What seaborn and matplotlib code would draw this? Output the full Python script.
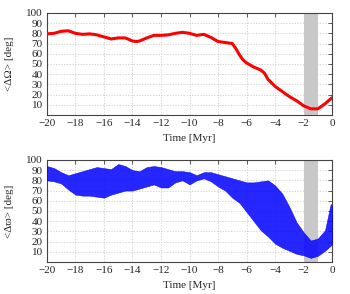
import numpy as np
import pandas as pd
import matplotlib
matplotlib.use("Agg")
import matplotlib.pyplot as plt
import seaborn as sns

# ==================================================
# DATA
# ==================================================

time_omega = [-20, -19.5, -19, -18.5, -18, -17.5, -17, -16.5, -16, -15.5,
              -15, -14.5, -14, -13.7, -13.5, -13, -12.5, -12, -11.5, -11,
              -10.5, -10, -9.5, -9, -8.5, -8, -7.5, -7, -6.75, -6.5,
              -6.25, -6, -5.5, -5, -4.75, -4.5, -4, -3.5, -3, -2.5,
              -2, -1.5, -1, -0.5, 0]
delta_Omega = [79.5, 80, 82, 82.5, 80, 79, 79.5, 78.5, 76.5, 74.5,
               75.5, 75.5, 72.5, 72, 72.5, 75.5, 78, 78, 78.5, 80,
               81, 80, 78, 79, 76, 72, 71, 70, 65, 59,
               54, 51, 47, 44, 41, 35, 28, 23, 18, 14,
               9, 6, 6, 11, 17]

time_varpi = [-20, -19.5, -19, -18.5, -18, -17.5, -17, -16.5, -16, -15.5,
              -15, -14.5, -14, -13.5, -13, -12.5, -12, -11.5, -11, -10.5,
              -10, -9.5, -9, -8.5, -8, -7.5, -7, -6.5, -6, -5.5,
              -5, -4.5, -4, -3.5, -3, -2.5, -2, -1.5, -1, -0.5,
              -0.1, 0]
varpi_upper = [94, 92, 88, 85, 87, 89, 91, 93, 92, 91,
               96, 94, 90, 89, 93, 94, 93, 91, 89, 89,
               88, 85, 88, 88, 86, 84, 82, 80, 78, 78,
               79, 80, 75, 67, 54, 39, 29, 21, 23, 31,
               57, 54]
varpi_lower = [80, 79, 77, 71, 66, 65, 65, 64, 63, 66,
               68, 70, 70, 72, 74, 76, 73, 73, 78, 80,
               76, 80, 82, 79, 74, 70, 63, 58, 49, 40,
               31, 25, 18, 14, 11, 8, 6.5, 4, 6, 11,
               16, 18]

shade_start = -2
shade_end = -1

# ==================================================
# STYLE
# ==================================================

sns.set_style("white")
plt.rcParams["font.family"] = ["Liberation Serif", "DejaVu Serif"]
plt.rcParams["font.size"] = 8

fig = plt.figure(figsize=(3.5, 2.94), dpi=100)
ax1 = fig.add_axes([0.134, 0.609, 0.815, 0.347])
ax2 = fig.add_axes([0.134, 0.109, 0.815, 0.347])


def style_axis(ax, ylabel):
    ax.axvspan(shade_start, shade_end, color="#c8c8c8", lw=0, zorder=1)
    ax.set_xlim(-20, 0)
    ax.set_ylim(0, 100)
    ax.set_xticks(np.arange(-20, 1, 2))
    ax.set_yticks(np.arange(10, 101, 10))
    ax.grid(True, color="#c8c8c8", linestyle=(0, (2, 2)), lw=0.5)
    ax.set_axisbelow(True)
    ax.tick_params(direction="in", length=3, width=0.6, top=True,
                   right=True, labelsize=8, pad=3, color="#444444")
    for s in ax.spines.values():
        s.set_color("#444444")
        s.set_linewidth(0.8)
    ax.set_xlabel("Time [Myr]", fontsize=8, labelpad=4)
    ax.set_ylabel(ylabel, fontsize=8, labelpad=9)


# ==================================================
# TOP PANEL
# ==================================================

df_top = pd.DataFrame({"time": time_omega, "dO": delta_Omega})
sns.lineplot(data=df_top, x="time", y="dO", ax=ax1, color="red",
             lw=2.2, zorder=3)
style_axis(ax1, "<ΔΩ> [deg]")

# ==================================================
# BOTTOM PANEL
# ==================================================

ax2.fill_between(time_varpi, varpi_lower, varpi_upper, color="#0000ff",
                 alpha=0.85, lw=0.4, zorder=3)
style_axis(ax2, "<Δϖ> [deg]")

fig.savefig("out.png", dpi=100)
